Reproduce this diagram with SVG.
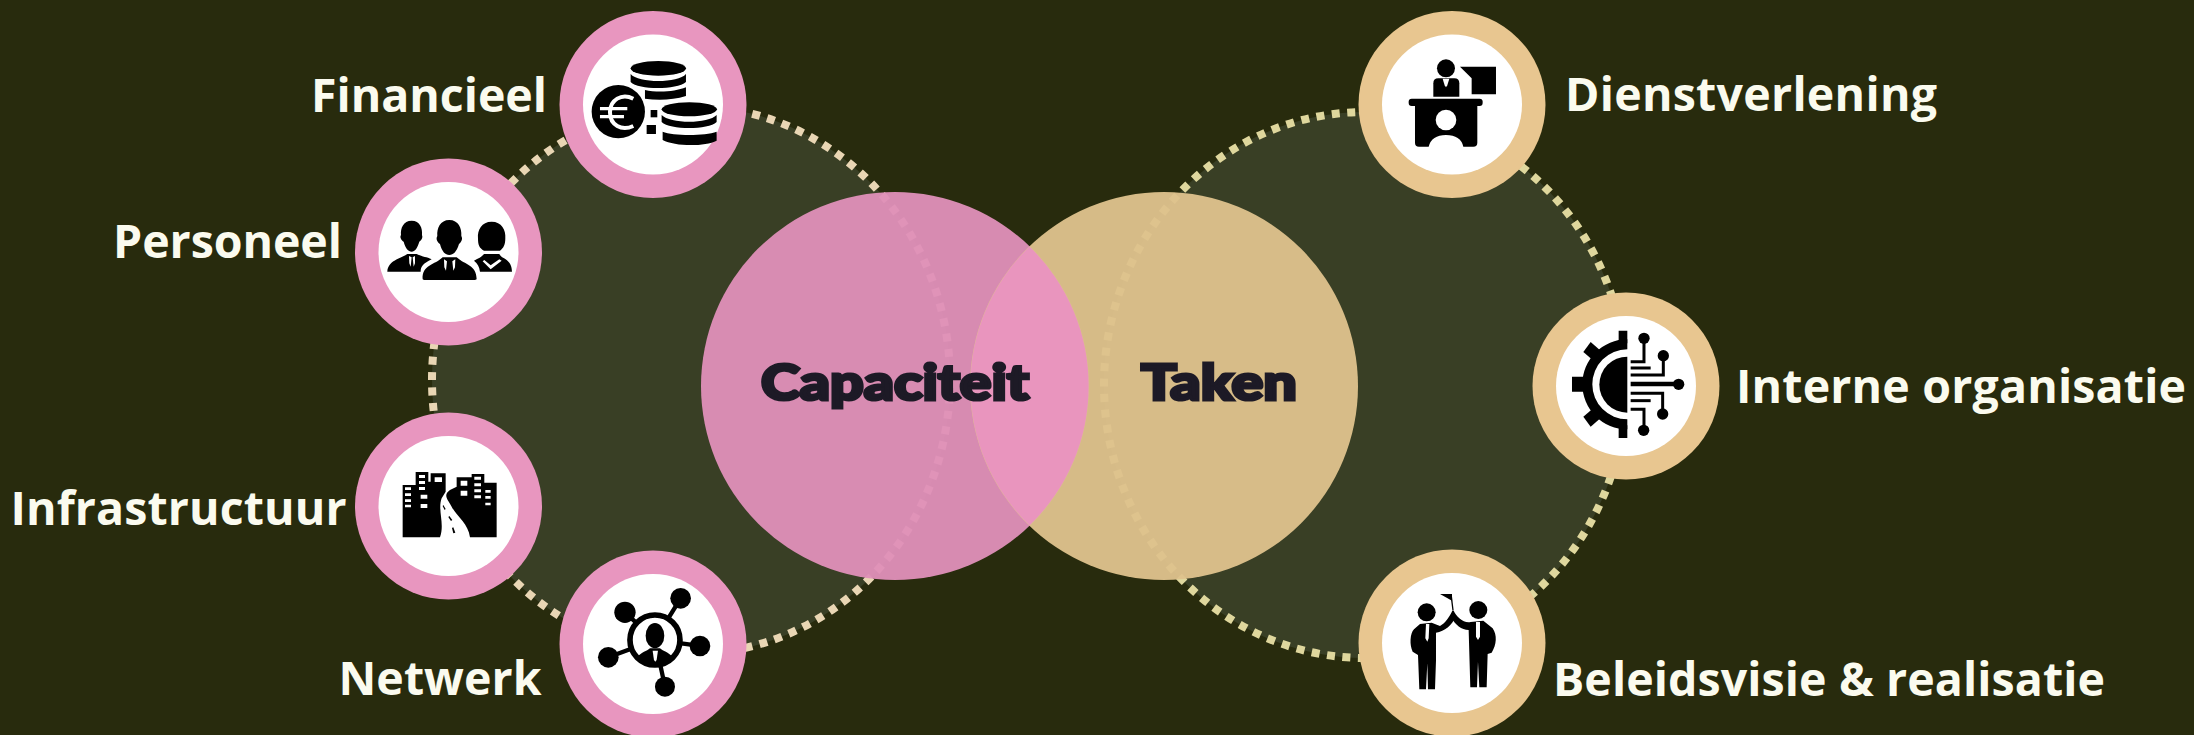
<svg xmlns="http://www.w3.org/2000/svg" width="2194" height="735" viewBox="0 0 2194 735">
<style>
.lbl{font-family:"Open Sans","Liberation Sans",sans-serif;font-weight:700;font-size:46.500px;fill:#fbfbef}
.big{font-family:"Lato","Roboto","Liberation Sans",sans-serif;font-weight:900;font-size:50px;fill:#1d1a26;stroke:#1d1a26;stroke-width:3.200px}
.pr{fill:#e896bf}.tr{fill:#e8c690}.wh{fill:#fff}
.i{fill:#000;stroke:none}.iw{fill:#fff;stroke:none}
.dash{stroke-width:8;stroke-dasharray:8 7.500}
</style>
<rect width="2194" height="735" fill="#282b0d"/>
<g id="connectors">
<ellipse cx="691" cy="380" rx="259" ry="274" fill="#393f25" class="dash" stroke="#e9d6b4"/>
<ellipse cx="1365" cy="385" rx="261" ry="273" fill="#393f25" class="dash" stroke="#dfd79d"/>
</g>
<g id="venn">
<circle id="capaciteit-circle" cx="895" cy="386" r="194" fill="#df90b8" fill-opacity=".96"/>
<circle id="taken-circle" cx="1164" cy="386" r="194" fill="#dec28c" fill-opacity=".96"/>
<path d="M1029.500 246.500A194 194 0 0 1 1029.500 525.500A194 194 0 0 1 1029.500 246.500Z" fill="#e995be"/>
<text class="big" x="895" y="400" text-anchor="middle" textLength="268" lengthAdjust="spacingAndGlyphs">Capaciteit</text>
<text class="big" x="1219" y="400" text-anchor="middle" textLength="156" lengthAdjust="spacingAndGlyphs">Taken</text>
</g>
<g id="node-financieel">
<circle class="pr" cx="653" cy="104.500" r="93.500"/><circle class="wh" cx="653" cy="104.500" r="70"/>
<g transform="translate(300 0) scale(.3333)">
<ellipse class="i" cx="1075" cy="205" rx="83" ry="22"/>
<path class="i" d="M992 222C1015 250 1135 250 1158 222V246C1130 270 1015 270 992 246Z"/>
<path class="i" d="M1035 270C1070 278 1125 276 1158 262V288C1120 300 1075 302 1035 296Z"/>
<path class="i" d="M1040 375H1068V402H1040Z"/><path class="i" d="M1052 330H1072V352H1052Z"/>
<ellipse class="i" cx="1168" cy="328" rx="83" ry="21"/>
<path class="i" d="M1085 345C1110 372 1225 372 1250 345V366C1225 390 1110 390 1085 366Z"/>
<path class="i" d="M1088 395C1120 408 1215 408 1250 395V422C1215 440 1125 440 1088 420Z"/>
<circle class="i" cx="955" cy="335" r="80"/>
<path d="M1000 296C965 278 930 300 930 337C930 376 965 394 1000 378" fill="none" stroke="#fff" stroke-width="12"/>
<path d="M900 326H982M900 350H972" fill="none" stroke="#fff" stroke-width="10"/>
</g>
<text class="lbl" x="547" y="111.500" text-anchor="end" textLength="236">Financieel</text>
</g>
<g id="node-personeel">
<circle class="pr" cx="448.500" cy="252" r="93.500"/><circle class="wh" cx="448.500" cy="252" r="70"/>
<g transform="translate(300 0) scale(.3333)">
<path class="i" d="M335 662C360 662 368 685 366 705C370 715 362 722 358 725C352 745 345 755 335 755C325 755 316 745 311 725C305 722 298 712 303 705C301 685 310 662 335 662Z"/>
<path class="i" d="M262 815C265 780 300 778 322 762H350C370 772 380 770 395 778C370 790 362 800 362 815Z"/>
<path class="iw" d="M327 768L335 772L332 800L328 790ZM345 768L338 772L341 800L345 790Z"/>
<path class="i" d="M448 660C475 660 486 685 484 708C490 718 482 728 477 732C470 755 460 765 448 765C436 765 426 755 420 732C414 728 406 718 412 708C410 685 421 660 448 660Z"/>
<path class="i" d="M368 838C365 795 405 795 428 772H470C495 795 530 795 530 838L525 840H372Z"/>
<path class="iw" d="M432 778L441 784L438 812L433 802ZM466 778L457 784L460 812L465 802Z"/>
<path class="i" d="M575 665C605 665 618 690 616 715C616 735 610 745 600 752H552C538 745 534 735 534 715C532 690 545 665 575 665Z"/>
<path class="i" d="M522 782C535 775 545 772 552 762H598C605 778 635 775 636 815H540C538 800 533 790 522 782Z"/>
<path class="iw" d="M553 780L572 796L598 778L605 782L572 808L548 784Z"/>
</g>
<text class="lbl" x="342" y="258" text-anchor="end" textLength="229">Personeel</text>
</g>
<g id="node-infrastructuur">
<circle class="pr" cx="448.500" cy="506" r="93.500"/><circle class="wh" cx="448.500" cy="506" r="70"/>
<g transform="translate(300 370) scale(.3333)">
<path class="i" d="M308 502V345H347V306H385V335H392V310H437V365L425 385C412 420 435 460 420 502Z"/>
<path class="i" d="M510 502C505 460 470 440 455 410C440 385 430 375 450 360L470 350V322H515V312H553V338H590V502Z"/>
<path class="iw" d="M315 352h18v8h-18zM315 370h18v8h-18zM315 388h18v8h-18zM315 404h18v8h-18zM357 315h18v9h-18zM357 333h18v9h-18zM357 351h18v9h-18zM362 374h20v12h-20zM362 402h20v12h-20zM404 322h22v14h-22zM482 332h20v15h-20zM482 362h20v15h-20zM523 320h20v9h-20zM523 340h20v9h-20zM523 358h20v9h-20zM523 376h20v9h-20zM556 360h16v8h-16zM556 378h16v8h-16zM556 398h16v8h-16z"/>
<path class="i" d="M430 405l7 12-3 3-6-12zM448 438l9 12-4 3-8-12zM460 472l6 16-6 2-4-16z"/>
</g>
<text class="lbl" x="346.500" y="525" text-anchor="end" textLength="336">Infrastructuur</text>
</g>
<g id="node-netwerk">
<circle class="pr" cx="653" cy="644" r="93.500"/><circle class="wh" cx="653" cy="644" r="70"/>
<g transform="translate(300 370) scale(.3333)">
<path d="M975 727L1065 810M1142 685L1065 810M1200 828L1065 810M925 862L1065 810M1095 950L1065 810" fill="none" stroke="#000" stroke-width="13"/>
<circle cx="1065" cy="810" r="75" fill="#fff" stroke="#000" stroke-width="17"/>
<circle class="i" cx="975" cy="727" r="32"/><circle class="i" cx="1142" cy="685" r="31"/><circle class="i" cx="1200" cy="828" r="31"/><circle class="i" cx="925" cy="862" r="31"/><circle class="i" cx="1095" cy="950" r="30"/>
<ellipse class="i" cx="1065" cy="797" rx="28" ry="38"/>
<path class="i" d="M1012 862C1025 845 1040 845 1050 835H1080C1090 845 1105 845 1118 862C1100 885 1035 890 1012 862Z"/>
<path class="iw" d="M1058 842H1074L1070 870L1066 875L1062 870Z"/>
</g>
<text class="lbl" x="541.500" y="695" text-anchor="end" textLength="203">Netwerk</text>
</g>
<g id="node-dienstverlening">
<circle class="tr" cx="1452" cy="104.500" r="93.500"/><circle class="wh" cx="1452" cy="104.500" r="70"/>
<g transform="translate(1340 0) scale(.3333)">
<circle class="i" cx="318" cy="205" r="27"/>
<path class="i" d="M280 250Q280 235 295 235H343Q358 235 358 250V290H280Z"/>
<path class="iw" d="M308 236H328L322 256L318 262L314 256Z"/>
<path class="i" d="M360 200H468V283H395V235Z"/>
<rect class="i" x="206" y="296" width="222" height="22" rx="9"/>
<path class="i" d="M225 318H412V428Q412 440 400 440H370Q362 405 318 405Q275 405 266 440H237Q225 440 225 428Z"/>
<circle class="iw" cx="318" cy="360" r="31"/>
</g>
<text class="lbl" x="1565" y="111" textLength="372">Dienstverlening</text>
</g>
<g id="node-interne-organisatie">
<circle class="tr" cx="1626" cy="386" r="93.500"/><circle class="wh" cx="1626" cy="386" r="70"/>
<g transform="translate(1500 280) scale(.3333)">
<path class="i" d="M382 230V398A84 84 0 0 1 382 230Z"/>
<path class="i" d="M382 178A135 135 0 0 0 382 448V418A105 105 0 0 1 382 208Z"/>
<path class="i" d="M356 152H382V190H356ZM356 436H382V474H356ZM216 290H262V335H216Z"/>
<path class="i" d="M272 186L302 212L278 240L250 216Z"/>
<path class="i" d="M250 410L278 386L302 414L272 440Z"/>
<g fill="none" stroke="#000" stroke-width="9">
<path d="M392 245H432V175"/><path d="M392 264H452"/><path d="M392 285H490V228"/>
<path d="M392 312H535" stroke-width="13"/>
<path d="M392 340H488V400"/><path d="M392 362H452"/><path d="M392 388H432V450"/>
</g>
<circle class="i" cx="432" cy="175" r="17"/><circle class="i" cx="490" cy="227" r="17"/><circle class="i" cx="536" cy="313" r="17"/><circle class="i" cx="488" cy="402" r="17"/><circle class="i" cx="431" cy="451" r="17"/>
</g>
<text class="lbl" x="1736" y="403" textLength="450">Interne organisatie</text>
</g>
<g id="node-beleidsvisie">
<circle class="tr" cx="1452" cy="643" r="93.500"/><circle class="wh" cx="1452" cy="643" r="70"/>
<g transform="translate(1340 530) scale(.3333)">
<circle class="i" cx="260" cy="247" r="27"/><circle class="i" cx="415" cy="240" r="27"/>
<path class="i" d="M240 282L275 278L300 288C315 280 328 262 338 240L347 262C335 285 315 305 288 308V392L285 478H264L262 400L258 478H238L234 375L218 365C208 345 210 310 222 298Z"/>
<path class="i" d="M340 240C350 262 370 280 392 276L430 272L458 295C472 315 470 345 455 368L443 372L440 472H418L414 395L411 472H391L386 300C365 300 345 285 334 262Z"/>
<path class="iw" d="M258 282H268L266 325L262 335L256 325ZM408 276H420L420 320L414 330L408 320Z"/>
<path d="M339 240L334 200" stroke="#000" stroke-width="4" fill="none"/>
<path class="i" d="M300 192H336V212Z"/>
</g>
<text class="lbl" x="1553" y="696" textLength="552">Beleidsvisie &amp; realisatie</text>
</g>
</svg>
